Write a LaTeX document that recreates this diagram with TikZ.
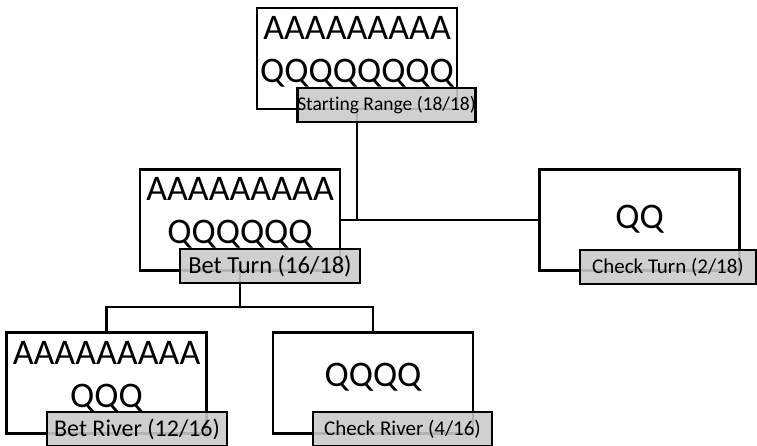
\documentclass[tikz,border=0pt]{standalone}
\usepackage{fontspec}
\setmainfont{Carlito}[Ligatures=NoCommon]
\definecolor{lblfill}{RGB}{202,202,202}
\tikzset{
  box/.style={draw=black, line width=2.8pt, fill=white, rectangle, inner sep=0pt,
    minimum width=200pt, minimum height=101pt},
  lbl/.style={draw=black, line width=2.8pt, fill=lblfill, fill opacity=0.89, text opacity=1,
    rectangle, inner sep=0pt, minimum height=34pt},
  big/.style={inner sep=0pt, anchor=base, font=\fontsize{36}{40}\selectfont},
  conn/.style={line width=2.8pt, line join=miter}
}
\begin{document}
\begin{tikzpicture}[x=1pt, y=-1pt]
\useasboundingbox (0,0) rectangle (757,445);

% box centres (placed first as coordinates for connectors)
\coordinate (topc) at (357,58.5);
\coordinate (midc) at (240,220);
\coordinate (rgtc) at (639.5,220);
\coordinate (blc) at (106.5,383);
\coordinate (brc) at (373,383);
\coordinate (split) at (240,307);

% connectors
\draw[conn] (topc) |- (midc);
\draw[conn] (topc) |- (rgtc);
\draw[conn] (midc) -- (split);
\draw[conn] (split) -| (blc);
\draw[conn] (split) -| (brc);

% boxes
\node[box] (top) at (topc) {};
\node[box] (mid) at (midc) {};
\node[box] (rgt) at (rgtc) {};
\node[box] (bl) at (blc) {};
\node[box] (br) at (brc) {};

% big texts
\node[big] (topA) at (357,39.5) {AAAAAAAAA};
\node[big] (topQ) at (357,82.5) {QQQQQQQQ};
\node[big] (midA) at (240,200.5) {AAAAAAAAA};
\node[big] (midQ) at (240,243.5) {QQQQQQ};
\node[big] (rgtQ) at (639.5,228.5) {QQ};
\node[big] (blA) at (106.5,364.5) {AAAAAAAAA};
\node[big] (blQ) at (106.5,407.5) {QQQ};
\node[big] (brQ) at (373,386.5) {QQQQ};

% labels
\node[lbl, minimum width=175pt, font=\fontsize{19.5}{22}\selectfont] (topL) at (386.5,105) {Starting Range (18/18)};
\node[lbl, minimum width=180pt, font=\fontsize{24.5}{28}\selectfont] (midL) at (270,266) {Bet Turn (16/18)};
\node[lbl, minimum width=176pt, font=\fontsize{21}{24}\selectfont] (rgtL) at (668,267) {Check Turn (2/18)};
\node[lbl, minimum width=180pt, font=\fontsize{24}{28}\selectfont] (blL) at (137,429) {Bet River (12/16)};
\node[lbl, minimum width=179pt, font=\fontsize{21}{24}\selectfont] (brL) at (402.5,429) {Check River (4/16)};
\end{tikzpicture}
\end{document}
